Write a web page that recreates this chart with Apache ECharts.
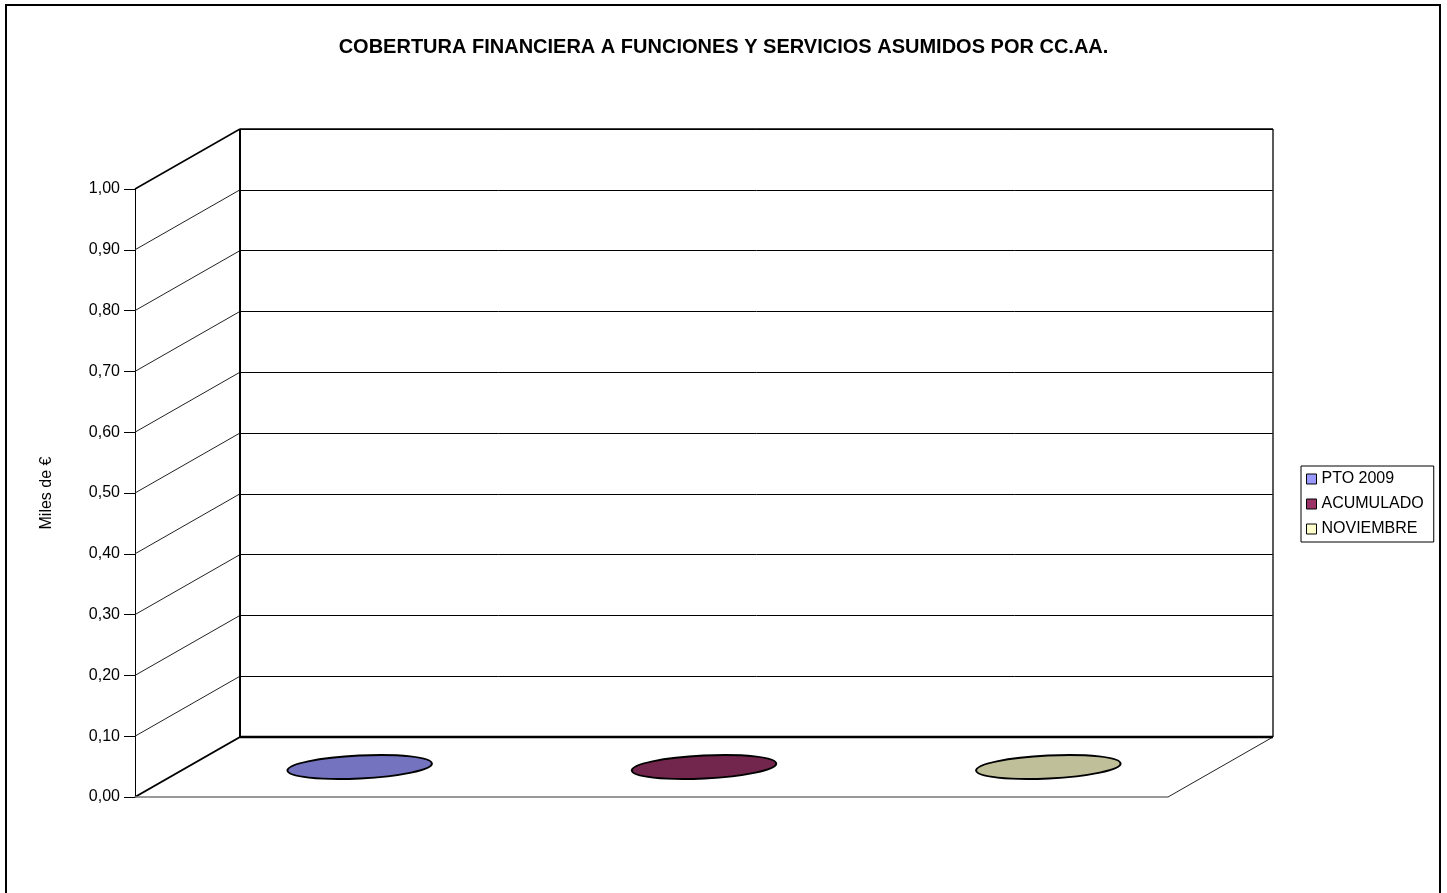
<!DOCTYPE html>
<html>
<head>
<meta charset="utf-8">
<script src="https://cdn.jsdelivr.net/npm/echarts@6/dist/echarts.min.js"></script>
<style>
html,body{margin:0;padding:0;background:#fff;}
#chart{width:1447px;height:893px;}
</style>
</head>
<body>
<div id="chart"></div>
<script>
// ---- data ----
const titleText = 'COBERTURA FINANCIERA A FUNCIONES Y SERVICIOS ASUMIDOS POR CC.AA.';
const yAxisName = 'Miles de €';
const categories = ['PTO 2009', 'ACUMULADO', 'NOVIEMBRE'];
const values = [0, 0, 0];
const yTicks = [0, 0.1, 0.2, 0.3, 0.4, 0.5, 0.6, 0.7, 0.8, 0.9, 1.0];
const legendColors = ['#9999FF', '#993366', '#FFFFCC'];
const fillColors = ['#7373BF', '#73264D', '#BFBF99'];

// ---- layout / style ----
const FONT = '"Liberation Sans", Arial, sans-serif';
const BACK = {left: 240, top: 129, width: 1033, height: 608};
const DX = -105, DY = 60;

const chart = echarts.init(document.getElementById('chart'));

function frameRender(params, api) {
  const cs = params.coordSys;
  const x0 = cs.x, x1 = cs.x + cs.width, yT = cs.y, yB = cs.y + cs.height;
  const ch = [];
  const ln = (a, b, c, d, w, col) => ch.push({type: 'line', shape: {x1: a, y1: b, x2: c, y2: d}, style: {stroke: col || '#000', lineWidth: w}});
  yTicks.forEach(v => {
    const y = api.coord([0, v])[1];
    const w = v === 0 ? 2 : (v === 1 ? 1.5 : 1);
    ln(x0, y, x0 + DX, y + DY, w, v === 0 || v === 1 ? '#000' : '#222');
  });
  ln(x0, yT, x0, yB, 2);
  ln(x1, yT, x1, yB, 1.5, '#222');
  ln(x0, yT, x1, yT, 1.5);
  ln(x1, yB, x1 + DX, yB + DY, 1, '#222');
  ln(x0 + DX, yB + DY, x1 + DX, yB + DY, 1.5, '#777');
  ln(x0, yB, x1, yB, 2.5);
  return {type: 'group', children: ch};
}

function cylRender(idx) {
  return function (params, api) {
    const x = api.value(0), v = api.value(1);
    const base = api.coord([x, 0]);
    const top = api.coord([x, v]);
    const bw = api.size([1, 0])[0];
    const rx = bw * 0.21, ry = 11.5;
    const cx = base[0] + DX / 2, by = base[1] + DY / 2, ty = top[1] + DY / 2;
    const st = {fill: fillColors[idx], stroke: '#000', lineWidth: 2};
    const ch = [];
    if (by - ty > 0.5) {
      ch.push({type: 'ellipse', x: cx, y: by, rotation: 0.049, shape: {cx: 0, cy: 0, rx: rx, ry: ry}, style: st});
      ch.push({type: 'rect', shape: {x: cx - rx, y: ty, width: 2 * rx, height: by - ty}, style: {fill: fillColors[idx], stroke: '#000', lineWidth: 2}});
    }
    ch.push({type: 'ellipse', x: cx, y: ty, rotation: 0.049, shape: {cx: 0, cy: 0, rx: rx, ry: ry}, style: st});
    return {type: 'group', children: ch};
  };
}

const option = {
  backgroundColor: '#fff',
  animation: false,
  title: {
    text: titleText, left: 'center', top: 35, padding: 0,
    textStyle: {fontFamily: FONT, fontSize: 20, fontWeight: 'bold', color: '#000', lineHeight: 24}
  },
  legend: {
    orient: 'vertical', left: 1301, top: 466,
    borderColor: '#000', borderWidth: 1, padding: [5, 10, 5, 5],
    itemWidth: 10, itemHeight: 10, itemGap: 9, icon: 'rect',
    itemStyle: {borderColor: '#000', borderWidth: 1},
    textStyle: {fontFamily: FONT, fontSize: 16, color: '#000'},
    data: categories.map((c, i) => ({name: c, itemStyle: {color: legendColors[i], borderColor: '#000', borderWidth: 1}}))
  },
  graphic: [{
    type: 'rect', silent: true, z: -10,
    shape: {x: 6, y: 5, width: 1434, height: 900},
    style: {fill: 'none', stroke: '#000', lineWidth: 2}
  }],
  grid: [
    {left: BACK.left, top: BACK.top, width: BACK.width, height: BACK.height},
    {left: BACK.left + DX, top: BACK.top + DY, width: BACK.width, height: BACK.height}
  ],
  xAxis: [
    {gridIndex: 0, type: 'category', data: categories, show: false},
    {gridIndex: 1, type: 'category', data: categories, show: false}
  ],
  yAxis: [
    {gridIndex: 0, type: 'value', min: 0, max: 1, interval: 0.1,
      axisLabel: {show: false}, axisLine: {show: false}, axisTick: {show: false},
      splitLine: {show: true, lineStyle: {color: '#000', width: 1}}},
    {gridIndex: 1, type: 'value', min: 0, max: 1, interval: 0.1,
      name: yAxisName, nameLocation: 'middle', nameRotate: 90, nameGap: 80,
      nameTextStyle: {fontFamily: FONT, fontSize: 16, color: '#000'},
      axisLine: {show: true, lineStyle: {color: '#000', width: 1}},
      axisTick: {show: true, length: 11, inside: false, lineStyle: {color: '#000', width: 1}},
      axisLabel: {margin: 15, fontFamily: FONT, fontSize: 16, color: '#000',
        formatter: v => v.toFixed(2).replace('.', ',')},
      splitLine: {show: false}}
  ],
  series: [
    {type: 'custom', name: '_frame', xAxisIndex: 0, yAxisIndex: 0, silent: true, z: 1,
      data: [[0, 0]], renderItem: frameRender, tooltip: {show: false}}
  ].concat(categories.map((c, i) => ({
    type: 'custom', name: c, xAxisIndex: 0, yAxisIndex: 0, z: 5,
    itemStyle: {color: legendColors[i]},
    data: [[i, values[i]]], renderItem: cylRender(i)
  })))
};
chart.setOption(option);
</script>
</body>
</html>
